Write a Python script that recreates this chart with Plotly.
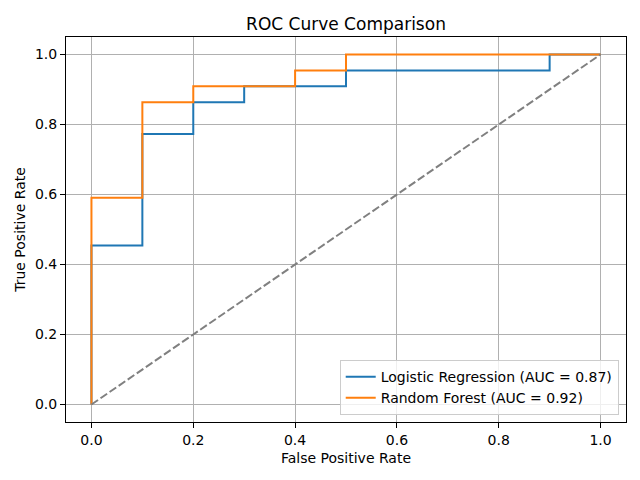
import plotly.graph_objects as go

# ROC points (fpr, tpr)
lr_fpr = [0.0, 0.0, 0.1, 0.1, 0.2, 0.2, 0.3, 0.3, 0.5, 0.5, 0.9, 0.9, 1.0]
lr_tpr = [0.0, 0.4545, 0.4545, 0.7727, 0.7727, 0.8636, 0.8636, 0.9091, 0.9091, 0.9545, 0.9545, 1.0, 1.0]
rf_fpr = [0.0, 0.0, 0.1, 0.1, 0.2, 0.2, 0.4, 0.4, 0.5, 0.5, 1.0]
rf_tpr = [0.0, 0.5909, 0.5909, 0.8636, 0.8636, 0.9091, 0.9091, 0.9545, 0.9545, 1.0, 1.0]
lr_auc = 0.87
rf_auc = 0.92
chance = [0.0, 1.0]
ticks = [0.0, 0.2, 0.4, 0.6, 0.8, 1.0]

fig = go.Figure()
fig.add_trace(go.Scatter(x=lr_fpr, y=lr_tpr, mode='lines', line=dict(color='#1f77b4', width=2),
                         name=f'Logistic Regression (AUC = {lr_auc:.2f})'))
fig.add_trace(go.Scatter(x=rf_fpr, y=rf_tpr, mode='lines', line=dict(color='#ff7f0e', width=2),
                         name=f'Random Forest (AUC = {rf_auc:.2f})'))
fig.add_trace(go.Scatter(x=chance, y=chance, mode='lines', line=dict(color='gray', width=2, dash='8px,3px'),
                         showlegend=False))

axis_style = dict(showline=True, linecolor='black', linewidth=1, mirror=True, ticks='outside', ticklen=5,
                  tickcolor='black', showgrid=True, gridcolor='#b0b0b0', gridwidth=1, zeroline=False,
                  tickvals=ticks, tickformat='.1f', range=[-0.05, 1.05], automargin=False,
                  tickfont=dict(size=14))

# page body has an 8px default margin, so the figure is a bit smaller to fit the window
fig.update_layout(
    width=632, height=472,
    paper_bgcolor='white', plot_bgcolor='white',
    font=dict(family='DejaVu Sans', size=14, color='black'),
    title=dict(text='ROC Curve Comparison', x=0.5, xanchor='center', xref='paper',
               y=0.965, yanchor='middle', font=dict(size=17)),
    margin=dict(l=58, r=14, t=29, b=58, pad=0),
    xaxis=dict(title=dict(text='False Positive Rate', standoff=6, font=dict(size=14)), **axis_style),
    yaxis=dict(title=dict(text='True Positive Rate', standoff=6, font=dict(size=14)), **axis_style),
    legend=dict(x=0.987, xanchor='right', y=0.018, yanchor='bottom', bgcolor='rgba(255,255,255,0.8)',
                bordercolor='#cccccc', borderwidth=1, font=dict(size=14), itemwidth=30),
)

fig.write_html("out.html")
